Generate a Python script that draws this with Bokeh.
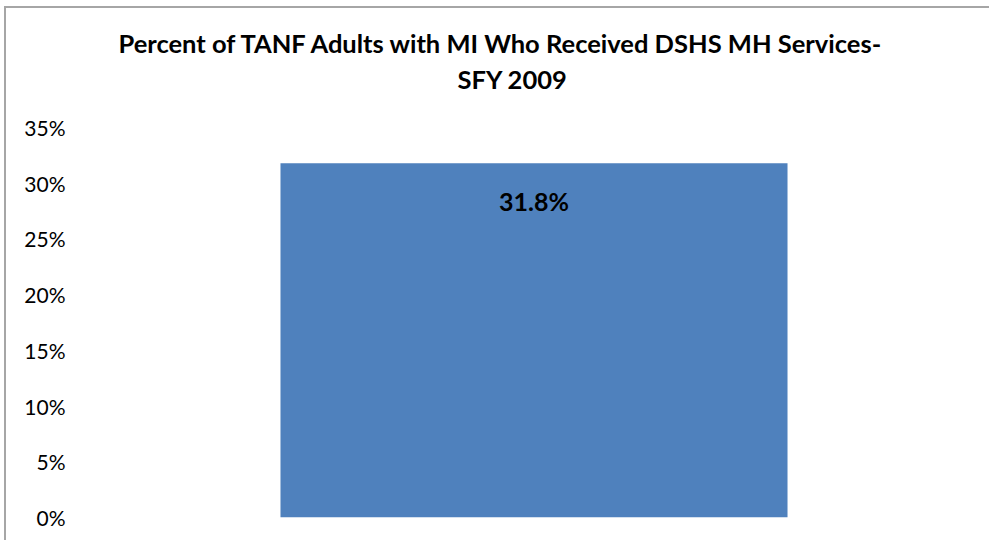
from bokeh.plotting import figure
from bokeh.models import Range1d, FactorRange, NumeralTickFormatter, FixedTicker, Title, ColumnDataSource, LabelSet
from bokeh.core.properties import value
from bokeh.embed import file_html
from bokeh.resources import INLINE

categories = ["SFY 2009"]
values = [0.318]
labels = ["31.8%"]
y_ticks = [0, 0.05, 0.10, 0.15, 0.20, 0.25, 0.30, 0.35]
title_line1 = "Percent of TANF Adults with MI Who Received DSHS MH Services-"
title_line2 = "SFY 2009"

FONT = "Lato"

src = ColumnDataSource(dict(cat=categories, val=values, lab=labels))

p = figure(width=985, height=534, output_backend="svg", toolbar_location=None,
           x_range=FactorRange(*categories, range_padding=0),
           y_range=Range1d(0, 0.35),
           min_border_left=78, min_border_right=8, min_border_top=119, min_border_bottom=25)
p.title = None
spacer = Title(text=" ", align="left", text_font=FONT, text_font_size="1px", standoff=27)
t2 = Title(text=title_line2, align="left", text_font=FONT, text_font_size="25.5px",
           text_font_style="bold", text_color="black", standoff=8, offset=373)
t1 = Title(text=title_line1, align="left", text_font=FONT, text_font_size="25.5px",
           text_font_style="bold", text_color="black", standoff=0, offset=34)
p.add_layout(spacer, "above")
p.add_layout(t2, "above")
p.add_layout(t1, "above")

p.vbar(x="cat", top="val", width=0.564, source=src, color="#4F81BD", line_color=None)

p.add_layout(LabelSet(x="cat", y="val", text="lab", source=src, text_align="center",
                      text_baseline="middle", y_offset=-38, text_font=value(FONT),
                      text_font_size=value("25px"), text_font_style="bold", text_color="black"))

p.xaxis.visible = False
p.yaxis.ticker = FixedTicker(ticks=y_ticks)
p.yaxis.formatter = NumeralTickFormatter(format="0%")
p.yaxis.axis_line_color = None
p.yaxis.major_tick_line_color = None
p.yaxis.minor_tick_line_color = None
p.yaxis.major_tick_out = 0
p.yaxis.major_tick_in = 0
p.yaxis.major_label_standoff = 19
p.yaxis.major_label_text_font = FONT
p.yaxis.major_label_text_font_size = "21px"
p.yaxis.major_label_text_color = "black"
p.grid.visible = False
p.outline_line_color = None
p.styles = {"margin-left": "4px", "margin-top": "6px",
            "border-left": "2px solid #a6a6a6", "border-top": "2px solid #a6a6a6"}

open("out.html", "w").write(file_html(p, INLINE))
